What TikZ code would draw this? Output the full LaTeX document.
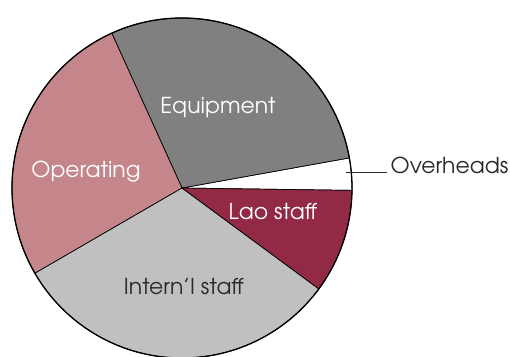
\documentclass[tikz,border=0pt]{standalone}
\usepackage{fontspec}
\setmainfont{texgyreadventor-regular.otf}
\definecolor{equip}{HTML}{808080}
\definecolor{oper}{HTML}{C4858B}
\definecolor{lao}{HTML}{922A46}
\definecolor{intern}{HTML}{C0C0C0}
\definecolor{txtdark}{HTML}{2A2A2A}
\tikzset{
  slice/.style={draw=black, line width=0.7bp},
  lbl/.style={font=\fontsize{22}{26}\selectfont, inner sep=0pt, anchor=base},
}
\begin{document}
\begin{tikzpicture}[x=1bp,y=1bp]
\useasboundingbox (0,0) rectangle (510,-356);
\clip (0,0) rectangle (510,-356);
\coordinate (c) at (182,-188);
\def\R{170}
\fill[white,slice] (c) -- ++(-0.8:\R) arc[start angle=-0.8, end angle=10.2, radius=\R] -- cycle;
\fill[equip,slice] (c) -- ++(10.2:\R) arc[start angle=10.2, end angle=114.4, radius=\R] -- cycle;
\fill[oper,slice] (c) -- ++(114.4:\R) arc[start angle=114.4, end angle=210.1, radius=\R] -- cycle;
\fill[intern,slice] (c) -- ++(210.1:\R) arc[start angle=210.1, end angle=323.6, radius=\R] -- cycle;
\fill[lao,slice] (c) -- ++(323.6:\R) arc[start angle=323.6, end angle=359.2, radius=\R] -- cycle;
\draw[line width=1.3bp] (c) circle[radius=\R];
\node[lbl, text=white] (equipment) at (218,-113) {Equipment};
\node[lbl, text=white] (operating) at (86,-177) {Operating};
\node[lbl, text=white] (laostaff) at (273,-219) {Lao staff};
\node[lbl, text=txtdark] (internl) at (184,-294) {Intern’l staff};
\node[lbl, text=txtdark, anchor=base west] (overheads) at (390.5,-173) {Overheads};
\coordinate (ovpt) at (345.7,-172.3);
\draw[line width=1.6bp, txtdark] (ovpt) -- ([xshift=-4bp]overheads.base west |- ovpt);
\end{tikzpicture}
\end{document}
